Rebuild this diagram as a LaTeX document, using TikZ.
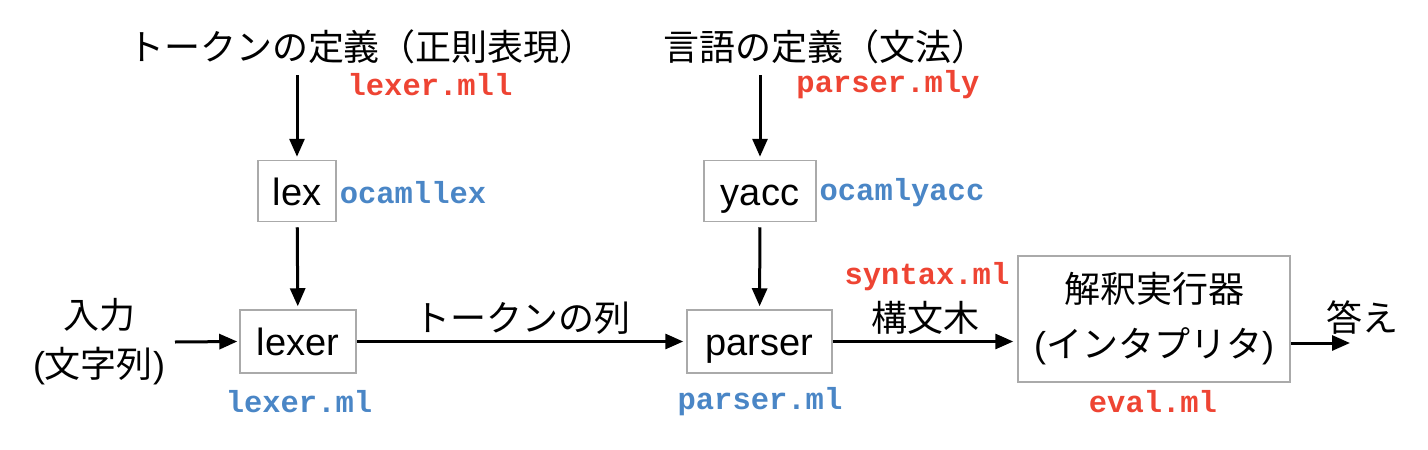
\documentclass[tikz,border=0pt]{standalone}
\usepackage{fontspec}
\setmainfont{Liberation Sans}
\newfontfamily\jp{Noto Sans CJK JP}
\newfontfamily\mono{Liberation Mono}
\usetikzlibrary{arrows.meta}
\definecolor{fred}{HTML}{EE4433}
\definecolor{fblue}{HTML}{4A86C6}
\definecolor{boxgray}{HTML}{AAAAAA}
\tikzset{
  box/.style={draw=boxgray, line width=1.5pt, inner sep=0pt, font=\fontsize{38}{44}\selectfont},
  boxtext/.style={text height=28pt, text depth=0pt},
  arr/.style={line width=3pt, -{Triangle[length=18pt,width=15pt]}},
  jptext/.style={font=\jp\fontsize{36}{44}\selectfont, inner sep=0pt},
  redfile/.style={text=fred, font=\mono\bfseries\fontsize{30.5}{36}\selectfont, inner sep=0pt},
  bluefile/.style={text=fblue, font=\mono\bfseries\fontsize{30.5}{36}\selectfont, inner sep=0pt},
}
\begin{document}
\begin{tikzpicture}[x=1pt,y=-1pt]
\useasboundingbox (0,0) rectangle (1428,450);
% titles
\node[jptext] (t1) at (362,47) {トークンの定義（正則表現）};
\node[jptext] (t2) at (825,47) {言語の定義（文法）};
\node[redfile] (mll) at (430,85) {lexer.mll};
\node[redfile] (mly) at (888,85) {parser.mly};
% boxes
\node[box, boxtext, minimum width=78pt, minimum height=61pt] (lex) at (297,191) {lex};
\node[box, boxtext, minimum width=112pt, minimum height=61pt] (yacc) at (760,191) {yacc};
\node[box, boxtext, minimum width=116pt, minimum height=63pt] (lexer) at (298,341.5) {lexer};
\node[box, boxtext, minimum width=145pt, minimum height=63pt] (parser) at (759.5,341.5) {parser};
\node[box, minimum width=272pt, minimum height=126pt, align=center, font=\jp\fontsize{36}{55}\selectfont] (interp) at (1154,319) {解釈実行器\\{\rmfamily(}インタプリタ{\rmfamily)}};
% labels
\node[bluefile] (ocl) at (413,193) {ocamllex};
\node[bluefile] (ocy) at (902,193) {ocamlyacc};
\node[bluefile] (lml) at (299,402) {lexer.ml};
\node[bluefile] (pml) at (760,402) {parser.ml};
\node[redfile] (sml) at (927,277) {syntax.ml};
\node[redfile] (eml) at (1153,402) {eval.ml};
\node[jptext] (tok) at (522,318) {トークンの列};
\node[jptext] (ast) at (925,318) {構文木};
\node[jptext, align=center, font=\jp\fontsize{36}{49}\selectfont] (in) at (99,342) {入力\\{\rmfamily(}文字列{\rmfamily)}};
\node[jptext] (ans) at (1362,318) {答え};
% coordinates
\coordinate (c1) at (297,75);
\coordinate (c2) at (760,75);
\coordinate (inS) at (175,342);
\coordinate (outE) at (1350,343);
% arrows
\draw[arr, shorten >=3pt] (c1) -- (lex);
\draw[arr, shorten >=3pt] (c2) -- (yacc);
\draw[arr, shorten >=3pt, shorten <=5pt] (lex) -- (lexer);
\draw[arr, shorten >=3pt, shorten <=5pt] (yacc) -- (parser);
\draw[arr, shorten >=2pt] (inS) -- (lexer.west);
\draw[arr, shorten >=3pt] (lexer.east) -- (parser.west);
\draw[arr, shorten >=4pt] (parser.east) -- (interp.west |- parser.east);
\draw[arr] (interp.east |- outE) -- (outE);
\end{tikzpicture}
\end{document}
